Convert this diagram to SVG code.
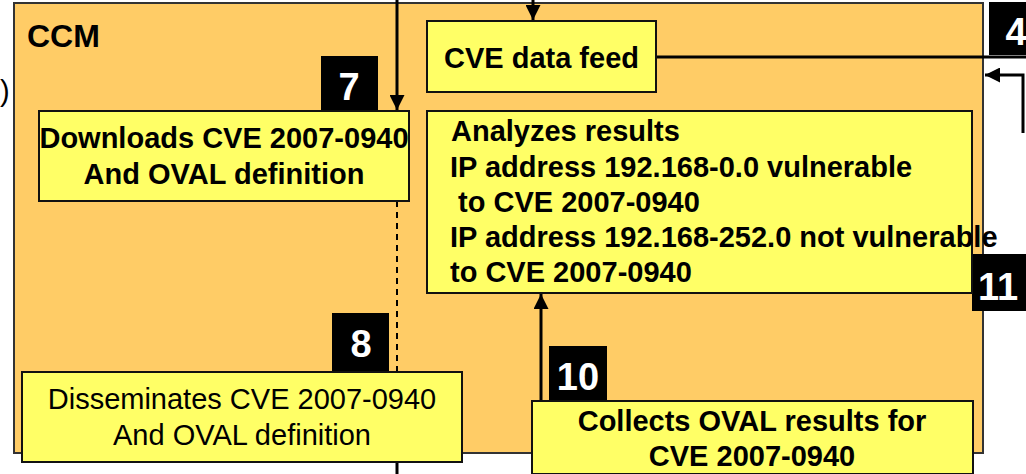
<svg xmlns="http://www.w3.org/2000/svg" width="1026" height="474" viewBox="0 0 1026 474">
<defs>
<style>
.bg{fill:#FFCC66;stroke:#333;stroke-width:2}
.yb{fill:#FFFF66;stroke:#111;stroke-width:2}
.num{fill:#000}
.nt{font-family:"Liberation Sans",Arial,sans-serif;font-weight:bold;font-size:38px;fill:#fff;text-anchor:middle}
.bt{font-family:"Liberation Sans",Arial,sans-serif;font-weight:bold;font-size:29px;fill:#000}
.rt{font-family:"Liberation Sans",Arial,sans-serif;font-size:29px;fill:#000}
.c{text-anchor:middle}
.ln{stroke:#000;stroke-width:3;fill:none}
.dash{stroke:#000;stroke-width:2;stroke-dasharray:6,5;fill:none}
</style>
<marker id="ah" viewBox="0 0 10 10" refX="10" refY="5" markerWidth="5.5" markerHeight="5" markerUnits="strokeWidth" orient="auto">
<path d="M0,0 L10,5 L0,10 z" fill="#000"/>
</marker>
</defs>
<rect width="1026" height="474" fill="#fff"/>
<text class="rt" x="0" y="101">)</text>
<g id="ccm">
<rect class="bg" x="14" y="3" width="969" height="450"/>
<text class="bt" x="27" y="47" style="font-size:32px">CCM</text>
</g>
<g id="badge4">
<rect class="num" x="989" y="2" width="40" height="53"/>
<text class="nt" x="1016" y="45">4</text>
</g>
<g id="badge7">
<rect class="num" x="321" y="56" width="57" height="56"/>
<text class="nt" x="349" y="100">7</text>
</g>
<g id="badge8">
<rect class="num" x="332" y="313" width="57" height="59"/>
<text class="nt" x="361" y="357">8</text>
</g>
<g id="badge10">
<rect class="num" x="549" y="346" width="58" height="56"/>
<text class="nt" x="578" y="390">10</text>
</g>
<g id="badge11">
<rect class="num" x="972" y="254" width="56" height="57"/>
<text class="nt" x="998" y="300">11</text>
</g>
<g id="connectors">
<line class="ln" x1="397" y1="0" x2="397" y2="110" marker-end="url(#ah)"/>
<line class="ln" x1="533" y1="0" x2="533" y2="20" marker-end="url(#ah)"/>
<line class="ln" x1="656" y1="57" x2="1026" y2="57"/>
<polyline class="ln" points="1023,133 1023,75 985,75" marker-end="url(#ah)"/>
<line class="dash" x1="397" y1="201" x2="397" y2="372"/>
<line class="ln" x1="397" y1="456" x2="397" y2="474"/>
<line class="ln" x1="541" y1="401" x2="541" y2="294" marker-end="url(#ah)"/>
</g>
<g id="cve-feed">
<rect class="yb" x="427" y="21" width="229" height="71"/>
<text class="bt" x="444" y="68">CVE data feed</text>
</g>
<g id="downloads">
<rect class="yb" x="39" y="111" width="370" height="90"/>
<text class="bt c" x="224" y="148">Downloads CVE 2007-0940</text>
<text class="bt c" x="224" y="184">And OVAL definition</text>
</g>
<g id="analyzes">
<rect class="yb" x="427" y="111" width="545" height="182"/>
<text class="bt" x="451" y="141">Analyzes results</text>
<text class="bt" x="450" y="177">IP address 192.168-0.0 vulnerable</text>
<text class="bt" x="450" y="212" xml:space="preserve"> to CVE 2007-0940</text>
<text class="bt" x="450" y="247">IP address 192.168-252.0 not vulnerable</text>
<text class="bt" x="450" y="282">to CVE 2007-0940</text>
</g>
<g id="disseminates">
<rect class="yb" x="22" y="372" width="440" height="90"/>
<text class="rt c" x="242" y="409">Disseminates CVE 2007-0940</text>
<text class="rt c" x="242" y="445">And OVAL definition</text>
</g>
<g id="collects">
<rect class="yb" x="532" y="401" width="441" height="73"/>
<text class="bt c" x="752" y="431">Collects OVAL results for</text>
<text class="bt c" x="752" y="466">CVE 2007-0940</text>
</g>
</svg>
